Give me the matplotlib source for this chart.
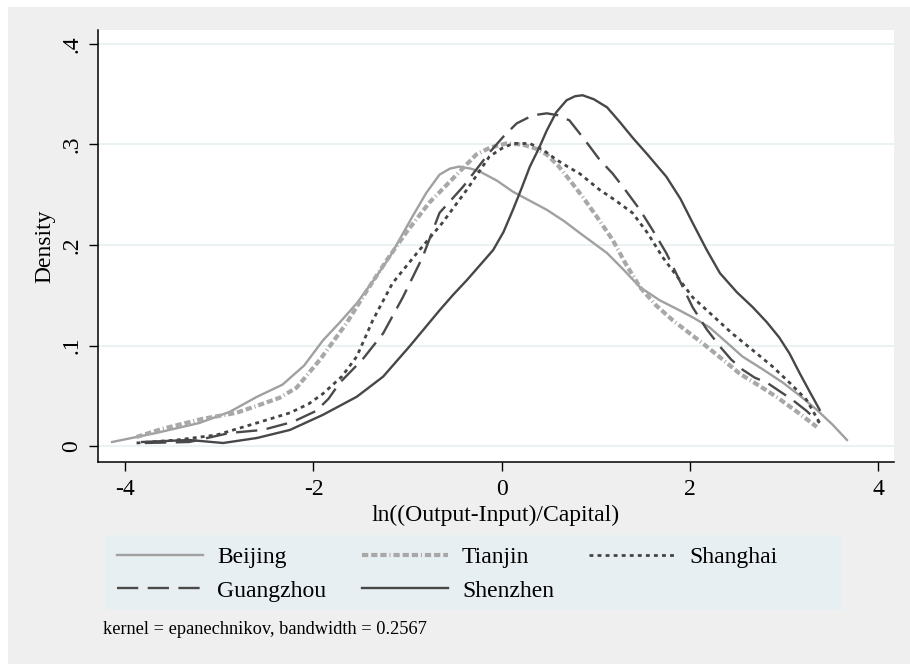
import matplotlib
matplotlib.use("Agg")
import matplotlib.pyplot as plt
from matplotlib.patches import Rectangle

plt.rcParams['font.family'] = ['Liberation Serif', 'DejaVu Serif']

# Kernel density curves (x, density)
beijing_x = [-4.14, -3.67, -3.21, -2.89, -2.60, -2.33, -2.10, -1.90, -1.72, -1.54,
             -1.36, -1.19, -0.95, -0.80, -0.66, -0.55, -0.45, -0.33, -0.23, -0.05,
             0.12, 0.30, 0.48, 0.66, 0.83, 1.12, 1.30, 1.47, 1.68, 1.89,
             2.05, 2.21, 2.38, 2.56, 2.78, 2.99, 3.17, 3.35, 3.52, 3.67]
beijing_y = [0.004, 0.013, 0.023, 0.034, 0.049, 0.061, 0.080, 0.105, 0.123, 0.142,
             0.165, 0.188, 0.228, 0.252, 0.270, 0.276, 0.278, 0.276, 0.273, 0.264,
             0.253, 0.244, 0.235, 0.224, 0.212, 0.192, 0.175, 0.158, 0.145, 0.135,
             0.127, 0.118, 0.104, 0.089, 0.076, 0.063, 0.050, 0.036, 0.021, 0.006]

tianjin_x = [-3.88, -3.61, -3.18, -2.82, -2.54, -2.36, -2.18, -1.93, -1.65, -1.43,
             -1.22, -1.01, -0.77, -0.53, -0.27, -0.12, 0.05, 0.22, 0.36, 0.48,
             0.60, 0.72, 0.86, 1.02, 1.18, 1.32, 1.47, 1.64, 1.82, 2.00,
             2.18, 2.35, 2.53, 2.72, 2.92, 3.14, 3.35]
tianjin_y = [0.009, 0.017, 0.027, 0.033, 0.042, 0.048, 0.058, 0.086, 0.122, 0.155,
             0.185, 0.213, 0.242, 0.265, 0.290, 0.297, 0.301, 0.300, 0.296, 0.290,
             0.279, 0.265, 0.248, 0.227, 0.205, 0.181, 0.158, 0.140, 0.125, 0.112,
             0.099, 0.086, 0.072, 0.061, 0.049, 0.034, 0.019]

shanghai_x = [-3.88, -3.45, -3.03, -2.60, -2.25, -2.05, -1.90, -1.70, -1.54, -1.37,
              -1.16, -0.90, -0.63, -0.37, -0.13, 0.00, 0.12, 0.30, 0.45, 0.58,
              0.70, 0.83, 1.04, 1.20, 1.39, 1.55, 1.71, 1.87, 2.03, 2.24,
              2.45, 2.66, 2.88, 3.06, 3.24, 3.38]
shanghai_y = [0.003, 0.006, 0.011, 0.023, 0.033, 0.042, 0.052, 0.069, 0.089, 0.125,
              0.162, 0.192, 0.222, 0.255, 0.288, 0.296, 0.301, 0.301, 0.294, 0.285,
              0.278, 0.271, 0.255, 0.245, 0.232, 0.212, 0.188, 0.168, 0.148, 0.130,
              0.112, 0.096, 0.079, 0.063, 0.046, 0.023]

guangzhou_x = [-3.79, -3.32, -2.89, -2.54, -2.22, -1.97, -1.84, -1.72, -1.48, -1.26,
               -1.05, -0.84, -0.66, -0.41, -0.13, 0.02, 0.16, 0.33, 0.48, 0.60,
               0.72, 0.88, 1.04, 1.18, 1.32, 1.47, 1.61, 1.75, 1.89, 2.03,
               2.18, 2.32, 2.44, 2.56, 2.69, 2.82, 3.09, 3.24, 3.38]
guangzhou_y = [0.003, 0.004, 0.013, 0.016, 0.024, 0.035, 0.047, 0.063, 0.086, 0.112,
               0.148, 0.188, 0.232, 0.258, 0.292, 0.308, 0.321, 0.329, 0.331, 0.329,
               0.324, 0.305, 0.285, 0.271, 0.254, 0.235, 0.214, 0.192, 0.165, 0.138,
               0.116, 0.099, 0.086, 0.076, 0.068, 0.063, 0.046, 0.035, 0.023]

shenzhen_x = [-3.82, -3.32, -2.96, -2.60, -2.25, -1.90, -1.54, -1.26, -0.98, -0.82,
              -0.66, -0.52, -0.37, -0.23, -0.09, 0.02, 0.12, 0.21, 0.30, 0.40,
              0.48, 0.58, 0.69, 0.78, 0.86, 0.98, 1.12, 1.25, 1.39, 1.55,
              1.75, 1.90, 2.03, 2.18, 2.32, 2.50, 2.67, 2.82, 2.95, 3.06,
              3.17, 3.28, 3.38]
shenzhen_y = [0.004, 0.006, 0.003, 0.008, 0.016, 0.031, 0.049, 0.069, 0.099, 0.117,
              0.135, 0.150, 0.165, 0.180, 0.195, 0.213, 0.235, 0.256, 0.278, 0.297,
              0.314, 0.332, 0.344, 0.348, 0.349, 0.345, 0.337, 0.323, 0.307, 0.290,
              0.268, 0.246, 0.222, 0.195, 0.172, 0.153, 0.138, 0.123, 0.108, 0.092,
              0.072, 0.053, 0.036]

x_ticks = [-4, -2, 0, 2, 4]
y_ticks = [0, 0.1, 0.2, 0.3, 0.4]
y_ticklabels = ["0", ".1", ".2", ".3", ".4"]

W, H = 910, 664
fig = plt.figure(figsize=(W / 100, H / 100), dpi=100, facecolor='white')
# Stata-like outer grey background
fig.patches.append(Rectangle((8 / W, 0), 1 - 8 / W, 1 - 7 / H, transform=fig.transFigure,
                             facecolor='#efefef', edgecolor='none', zorder=-10))
# legend region box
fig.patches.append(Rectangle((105 / W, 1 - 610 / H), (842 - 105) / W, 75 / H,
                             transform=fig.transFigure, facecolor='#e8eff2',
                             edgecolor='none', zorder=-5))

ax = fig.add_axes([98 / W, 1 - 462 / H, (894 - 98) / W, (462 - 30) / H])
ax.set_facecolor('white')

l_bj, = ax.plot(beijing_x, beijing_y, color='#a0a0a0', lw=1.7, label='Beijing',
                solid_joinstyle='round')
l_tj, = ax.plot(tianjin_x, tianjin_y, color='#a8a8a8', lw=3.0,
                ls=(0, (1.5, 0.7, 1.5, 0.7, 1.5, 0.7, 0.25, 0.7)),
                dash_capstyle='butt', label='Tianjin')
l_sh, = ax.plot(shanghai_x, shanghai_y, color='#444444', lw=2.0, ls=(0, (1.4, 1.5)),
                dash_capstyle='butt', label='Shanghai')
l_gz, = ax.plot(guangzhou_x, guangzhou_y, color='#4a4a4a', lw=1.7, ls=(0, (9, 4)),
                dash_capstyle='butt', label='Guangzhou')
l_sz, = ax.plot(shenzhen_x, shenzhen_y, color='#474747', lw=1.7, label='Shenzhen',
                solid_joinstyle='round')

ax.set_xlim(-4.29, 4.17)
ax.set_ylim(-0.0159, 0.4139)

ax.set_xticks(x_ticks)
ax.set_xticklabels([str(t) for t in x_ticks])
ax.set_yticks(y_ticks)
ax.set_yticklabels(y_ticklabels, rotation=90, va='center')
ax.tick_params(axis='both', direction='out', length=6.5, width=1, labelsize=17,
               colors='black')
ax.tick_params(axis='x', pad=6)
ax.tick_params(axis='y', pad=5)

ax.grid(axis='y', color='#eaf2f3', lw=1.4)
ax.set_axisbelow(True)
for s in ['top', 'right']:
    ax.spines[s].set_visible(False)
for s in ['left', 'bottom']:
    ax.spines[s].set_linewidth(1.1)
    ax.spines[s].set_color('black')

ax.set_xlabel("ln((Output-Input)/Capital)", fontsize=17, labelpad=3)
ax.set_ylabel("Density", fontsize=17, labelpad=4)

# column-major fill so rows read Beijing/Tianjin/Shanghai, Guangzhou/Shenzhen
handles = [l_bj, l_gz, l_tj, l_sz, l_sh]
fig.legend(handles, [h.get_label() for h in handles], ncol=3, loc='upper left',
           bbox_to_anchor=(105 / W, 1 - 535 / H), frameon=False, fontsize=17,
           handlelength=3.65, handletextpad=0.6, columnspacing=1.5,
           borderpad=0.5, labelspacing=0.5, borderaxespad=0)

fig.text(103 / W, 1 - 630 / H, "kernel = epanechnikov, bandwidth = 0.2567",
         fontsize=13.2, va='center', ha='left')

fig.savefig("out.png", dpi=100, facecolor=fig.get_facecolor())
